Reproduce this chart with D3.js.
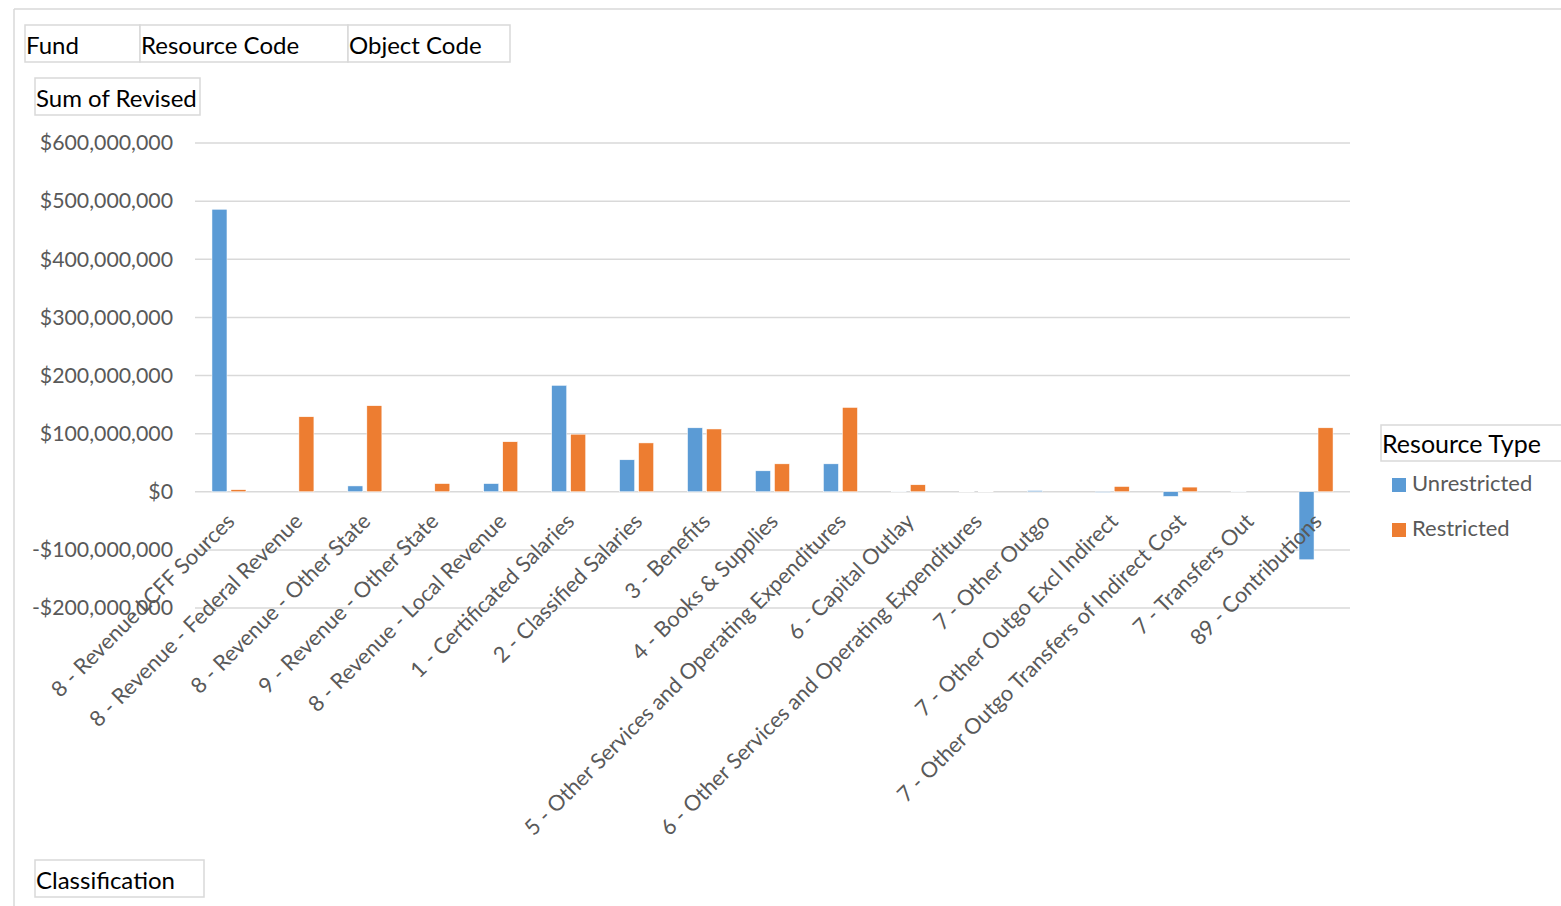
<!DOCTYPE html>
<html><head><meta charset="utf-8">
<script src="https://cdn.jsdelivr.net/npm/d3@7/dist/d3.min.js"></script>
<style>body{margin:0;background:#fff;}svg{display:block;font-family:Lato,"Open Sans",sans-serif;}</style>
</head><body>
<svg id="c" width="1561" height="906"></svg>
<script>
const categories = ["8 - Revenue LCFF Sources","8 - Revenue - Federal Revenue","8 - Revenue - Other State","9 - Revenue - Other State","8 - Revenue - Local Revenue","1 - Certificated Salaries","2 - Classified Salaries","3 - Benefits","4 - Books & Supplies","5 - Other Services and Operating Expenditures","6 - Capital Outlay","6 - Other Services and Operating Expenditures","7 - Other Outgo","7 - Other Outgo Excl Indirect","7 - Other Outgo Transfers of Indirect Cost","7 - Transfers Out","89 - Contributions"];
const unrestricted = [486e6, 0, 10e6, 0, 14e6, 183e6, 55e6, 110e6, 36e6, 48e6, 1e6, 0.5e6, 2e6, -1e6, -8e6, 1e6, -117e6];
const restricted = [3.5e6, 129e6, 148e6, 14e6, 86e6, 99e6, 84e6, 108e6, 48e6, 145e6, 12e6, 0.5e6, 0, 9e6, 8e6, 0, 110e6];
const seriesNames = ["Unrestricted","Restricted"];
const colors = ["#5b9bd5","#ed7d31"];
const yTicks = [-200e6,-100e6,0,100e6,200e6,300e6,400e6,500e6,600e6];

const svg = d3.select("#c");
svg.append("line").attr("x1",14).attr("x2",1561).attr("y1",9).attr("y2",9).attr("stroke","#d9d9d9").attr("stroke-width",1.5);
svg.append("line").attr("x1",14).attr("x2",14).attr("y1",9).attr("y2",906).attr("stroke","#d9d9d9").attr("stroke-width",1.5);

function button(x,y,w,h,t,size){
  svg.append("rect").attr("x",x).attr("y",y).attr("width",w).attr("height",h).attr("fill","#fff").attr("stroke","#d9d9d9").attr("stroke-width",1.5);
  svg.append("text").attr("x",x+1).attr("y",y+h-8).attr("font-size",size||24).attr("fill","#000").text(t);
}
button(25,25,115,37,"Fund");
button(140,25,208,37,"Resource Code");
button(348,25,162,37,"Object Code");
button(35,78,165,37,"Sum of Revised");
button(35,860,169,37,"Classification");
button(1381,425,182,36,"Resource Type",25);

const x = d3.scaleBand().domain(categories).range([195,1350]);
const y = d3.scaleLinear().domain([-200e6,600e6]).range([608,143]);

svg.append("g").selectAll("line").data(yTicks).join("line")
  .attr("x1",195).attr("x2",1350).attr("y1",d=>y(d)).attr("y2",d=>y(d))
  .attr("stroke","#d9d9d9").attr("stroke-width",1.5);

const fmt = d => (d<0?"-$":"$")+d3.format(",")(Math.abs(d));
const yAxis = d3.axisLeft(y).tickValues(yTicks).tickFormat(fmt).tickSize(0).tickPadding(22);
const gy = svg.append("g").attr("transform","translate(195,0)").call(yAxis);
gy.select(".domain").remove();
gy.selectAll("text").attr("font-size",21.3).attr("fill","#595959").attr("font-family","Lato,'Open Sans',sans-serif");

const bw = 15, gap = 4;
const data = [unrestricted, restricted];
data.forEach((vals,si)=>{
  svg.append("g").selectAll("rect").data(categories).join("rect")
    .attr("x",(c)=>x(c)+x.bandwidth()/2 + (si===0 ? -bw-gap/2 : gap/2))
    .attr("width",bw)
    .attr("y",(c,i)=>Math.min(y(vals[i]),y(0)))
    .attr("height",(c,i)=>Math.abs(y(vals[i])-y(0)))
    .attr("fill",colors[si])
    .attr("stroke","#fff").attr("stroke-width",0.5);
});

const xAxis = d3.axisBottom(x).tickSize(0).tickPadding(0);
const gx = svg.append("g").attr("transform","translate(0,"+y(0)+")").call(xAxis);
gx.select(".domain").remove();
gx.selectAll("text")
  .attr("font-size",21.7).attr("fill","#595959").attr("font-family","Lato,'Open Sans',sans-serif")
  .attr("text-anchor","end").attr("dy",0)
  .attr("transform","translate(7,31) rotate(-45)");

seriesNames.forEach((n,i)=>{
  const ly = 478 + i*45;
  svg.append("rect").attr("x",1392).attr("y",ly).attr("width",14).attr("height",14).attr("fill",colors[i]);
  svg.append("text").attr("x",1412).attr("y",ly+13).attr("font-size",22).attr("fill","#595959").text(n);
});
</script>
</body></html>
